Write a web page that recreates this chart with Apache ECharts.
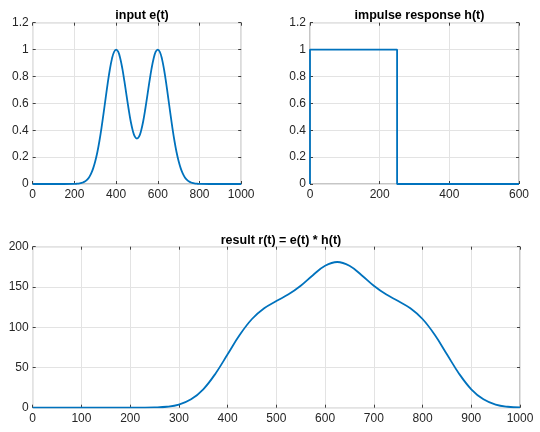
<!DOCTYPE html>
<html>
<head>
<meta charset="utf-8">
<script src="https://cdn.jsdelivr.net/npm/echarts@6/dist/echarts.min.js"></script>
<style>html,body{margin:0;padding:0;background:#fff}#c{width:540px;height:432px}</style>
</head>
<body>
<div id="c"></div>
<script>
// input e(t)
var eT = [0,50,100,150,200,210,220,230,240,250,260,270,280,290,300,310,320,330,340,350,360,370,380,390,400,410,420,430,440,450,460,470,480,490,500,510,520,530,540,550,560,570,580,590,600,610,620,630,640,650,660,670,680,690,700,710,720,730,740,750,760,770,780,790,800,850,900,950,1000];
var eV = [0,0,0,0,0.001,0.002,0.003,0.006,0.011,0.018,0.031,0.049,0.077,0.116,0.169,0.236,0.320,0.418,0.527,0.641,0.752,0.852,0.931,0.982,1.000,0.984,0.934,0.858,0.763,0.659,0.558,0.467,0.397,0.352,0.338,0.352,0.397,0.467,0.558,0.659,0.763,0.858,0.934,0.984,1.000,0.982,0.931,0.852,0.752,0.641,0.527,0.418,0.320,0.236,0.169,0.116,0.077,0.049,0.031,0.018,0.011,0.006,0.003,0.002,0.001,0,0,0,0];
// impulse response h(t)
var hT = [0,0,250,250,600];
var hV = [0,1,1,0,0];
// result r(t)
var rT = [0,50,100,150,200,225,250,275,300,325,350,375,400,425,450,475,500,525,550,575,600,625,650,675,700,725,750,775,800,825,850,875,900,925,950,975,1000];
var rV = [0,0,0,0,0.01,0.06,0.31,1.2,3.9,10.4,22.9,42.3,66.4,90.6,110.2,123.5,132.5,140.8,151.5,164.6,176.3,181.0,176.3,164.6,151.5,140.8,132.5,123.5,110.2,90.6,66.4,42.3,22.9,10.4,3.9,1.2,0.3];
var titles = ['input e(t)','impulse response h(t)','result r(t) = e(t) * h(t)'];
var xTicks = [[0,1000,200],[0,600,200],[0,1000,100]];
var yTicks = [[0,1.2,0.2],[0,1.2,0.2],[0,200,50]];

function zip(a,b){return a.map(function(v,i){return [v,b[i]];});}
var grids = [
  {left:32.7, top:22.7, width:208.5, height:161.3},
  {left:310, top:22.7, width:209, height:161.3},
  {left:32.7, top:246.7, width:487.3, height:161}
];
var font = 'Liberation Sans, Arial, Helvetica, sans-serif';
var txt = '#262626';
var fmt = function(v){return String(Math.round(v*1000)/1000);};
var tickStyle = {show:true, inside:true, length:3, lineStyle:{color:'#404040', width:1}};
var xAxes=[], yAxes=[];
grids.forEach(function(g,i){
  g.show = true; g.borderColor = '#8c8c8c'; g.borderWidth = 1; g.containLabel = false;
  var xt = xTicks[i], yt = yTicks[i];
  xAxes.push({type:'value', gridIndex:i, min:xt[0], max:xt[1], interval:xt[2], position:'bottom',
    axisLine:{show:false, onZero:false}, axisTick:tickStyle,
    axisLabel:{color:txt, fontSize:12, fontFamily:font, margin:5, formatter:fmt},
    splitLine:{show:true, lineStyle:{color:'#e3e3e3', width:1}}});
  xAxes.push({type:'value', gridIndex:i, min:xt[0], max:xt[1], interval:xt[2], position:'top',
    axisLine:{show:false, onZero:false}, axisTick:tickStyle,
    axisLabel:{show:false}, splitLine:{show:false}});
  yAxes.push({type:'value', gridIndex:i, min:yt[0], max:yt[1], interval:yt[2], position:'left',
    axisLine:{show:false, onZero:false}, axisTick:tickStyle,
    axisLabel:{color:txt, fontSize:12, fontFamily:font, margin:4, formatter:fmt},
    splitLine:{show:true, lineStyle:{color:'#e3e3e3', width:1}}});
  yAxes.push({type:'value', gridIndex:i, min:yt[0], max:yt[1], interval:yt[2], position:'right',
    axisLine:{show:false, onZero:false}, axisTick:tickStyle,
    axisLabel:{show:false}, splitLine:{show:false}});
});
var lineStyle = {color:'#0072BD', width:1.8};
var series = [
  {type:'line', xAxisIndex:0, yAxisIndex:0, data:zip(eT,eV), smooth:0.4, showSymbol:false, lineStyle:lineStyle, animation:false},
  {type:'line', xAxisIndex:2, yAxisIndex:2, data:zip(hT,hV), smooth:false, showSymbol:false, lineStyle:lineStyle, animation:false},
  {type:'line', xAxisIndex:4, yAxisIndex:4, data:zip(rT,rV), smooth:0.4, showSymbol:false, lineStyle:lineStyle, animation:false}
];
var titleOpts = [
  {text:titles[0], left:137, top:4, textAlign:'center'},
  {text:titles[1], left:414.5, top:4, textAlign:'center'},
  {text:titles[2], left:276, top:229, textAlign:'center'}
].map(function(t){t.textStyle={fontSize:12.5, fontWeight:'bold', color:'#000', fontFamily:font}; return t;});
var chart = echarts.init(document.getElementById('c'), null, {renderer:'canvas'});
chart.setOption({animation:false, backgroundColor:'#fff', title:titleOpts, grid:grids, xAxis:xAxes, yAxis:yAxes, series:series});
</script>
</body>
</html>
